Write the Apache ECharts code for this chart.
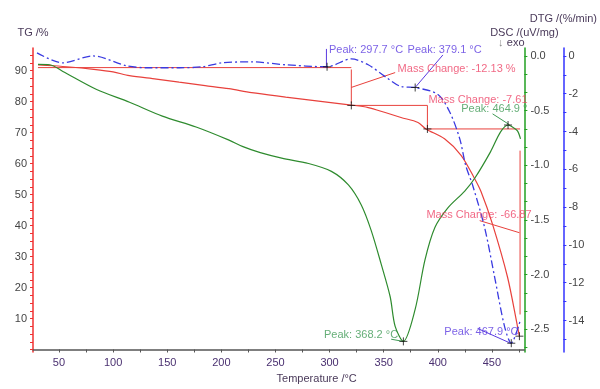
<!DOCTYPE html>
<html><head><meta charset="utf-8">
<script src="https://cdn.jsdelivr.net/npm/echarts@6/dist/echarts.min.js"></script>
<style>html,body{margin:0;padding:0;background:#fff}#c{width:600px;height:389px}</style>
</head><body><div id="c"></div>
<script>
// ---- data ----
const tgTemp = [30.6, 45, 60, 80, 100, 115, 140, 161, 185, 207, 228, 259.5, 289.8, 320.1, 335.7, 351.4, 366, 381.7, 389, 406.2, 421.5, 433.8, 439.9, 450.6, 464.4, 473.6, 475.4];
const tgVal  = [91.9, 91.6, 91.2, 90.5, 89.6, 88.4, 87.3, 86.3, 85.2, 84.2, 82.9, 81.5, 80.2, 78.9, 78.1, 76.5, 74.9, 73.3, 71.2, 68.0, 62.7, 55.3, 51.0, 40.4, 23.4, 7.5, 4.3];

const dscTemp = [30.6, 41.6, 53.6, 84.8, 115.2, 145.5, 176.7, 207.1, 220, 236, 255.8, 280.6, 301.7, 317.4, 329.3, 338.5, 347.7, 356, 360.6, 368.2, 379, 388.1, 397.3, 409.3, 424.9, 434.1, 448.8, 458, 464.9, 469, 473.6, 476.4];
const dscVal  = [-0.077, -0.081, -0.142, -0.307, -0.424, -0.551, -0.650, -0.77, -0.83, -0.885, -0.935, -0.984, -1.056, -1.18, -1.363, -1.597, -1.904, -2.202, -2.473, -2.61, -2.32, -1.868, -1.570, -1.39, -1.236, -1.119, -0.875, -0.695, -0.632, -0.650, -0.686, -0.758];

const dtgTemp = [29.7, 53.6, 81.1, 112.4, 130.8, 161.1, 182.2, 200.6, 228.2, 259.5, 297.7, 320.1, 335.7, 351.4, 366.1, 379.1, 400.1, 411.1, 420.3, 425.8, 432.2, 443.3, 452.5, 461.7, 467.9, 473.6, 476.4];
const dtgVal  = [0.157, -0.366, 0.0, -0.522, -0.627, -0.627, -0.575, -0.366, -0.313, -0.470, -0.575, -0.157, -0.470, -1.097, -1.620, -1.672, -2.038, -2.978, -4.389, -5.799, -6.844, -9.09, -11.70, -14.32, -15.2, -14.47, -13.95];

// mass-change steps: [start T, end T, level before, level after]
const massStepT    = [320.1, 390.4, 476.0];
const massStepFrom = [91.0, 78.8, 71.2];
const massStepTo   = [78.8, 71.2, 4.3];
const massLabels   = ['Mass Change: -12.13 %', 'Mass Change: -7.61', 'Mass Change: -66.87'];

const dscPeakT = [368.2, 464.9];
const dscPeakV = [-2.61, -0.632];
const dscPeakLabels = ['Peak: 368.2 °C', 'Peak: 464.9 °'];

const dtgPeakT = [297.7, 379.1, 467.9];
const dtgPeakV = [-0.575, -1.672, -15.2];
const dtgPeakLabels = ['Peak: 297.7 °C', 'Peak: 379.1 °C', 'Peak: 467.9 °C'];

const xLabels = [50, 100, 150, 200, 250, 300, 350, 400, 450];
const tgLabels = [10, 20, 30, 40, 50, 60, 70, 80, 90];
const dscLabels = [0, -0.5, -1.0, -1.5, -2.0, -2.5];
const dtgLabels = [0, -2, -4, -6, -8, -10, -12, -14];

// ---- build ----
const pts = (xs, ys) => xs.map((x, i) => [x, ys[i]]);
const FONT = '"Liberation Sans", Arial, sans-serif';
const RED = '#e8413c', GREEN = '#2e8b2e', BLUE = '#3a3ae0';
const RED_T = '#ee4466', GREEN_T = '#3f9a55', BLUE_T = '#5a3ae0';
const LBL = '#4a3a5a';

function range(a, b, step) { const r = []; for (let v = a; v <= b + 1e-9; v += step) r.push(+v.toFixed(4)); return r; }

const series = [];
series.push({ type: 'line', yAxisIndex: 0, data: pts(tgTemp, tgVal), smooth: 0.3, symbol: 'none', lineStyle: { color: RED, width: 1.2 }, z: 4 });
series.push({ type: 'line', yAxisIndex: 1, data: pts(dscTemp, dscVal), smooth: 0.3, symbol: 'none', lineStyle: { color: GREEN, width: 1.2 }, z: 4 });
series.push({ type: 'line', yAxisIndex: 2, data: pts(dtgTemp, dtgVal), smooth: 0.3, symbol: 'none', lineStyle: { color: BLUE, width: 1.3, type: [8, 3, 2, 3] }, z: 4 });

function seg(axis, a, b, color, w) {
  series.push({ type: 'line', yAxisIndex: axis, data: [a, b], symbol: 'none', silent: true, lineStyle: { color: color, width: w || 1 }, z: 3 });
}
// mass change construction lines
seg(0, [30.6, massStepFrom[0]], [massStepT[0], massStepFrom[0]], RED);
for (let i = 0; i < massStepT.length; i++) {
  const next = i + 1 < massStepT.length ? massStepT[i + 1] : null;
  if (next !== null) seg(0, [massStepT[i], massStepTo[i]], [next, massStepTo[i]], RED);
}
seg(0, [massStepT[0], 90.4], [massStepT[0], 79.4], RED);
seg(0, [massStepT[1], 78.8], [massStepT[1], 71.2], RED);
seg(0, [massStepT[2], 64.2], [massStepT[2], 11.3], RED);
// leaders
seg(0, [320.1, 84.6], [360.6, 89.4], RED);
seg(0, [438.7, 41.6], [475.4, 37.7], RED);
seg(1, [356.9, -2.59], [367.9, -2.61], GREEN_T);
seg(1, [450.6, -0.53], [466.3, -0.63], GREEN_T);
seg(2, [297.1, 0.37], [297.1, -0.575], BLUE_T);
seg(2, [404.7, 0.05], [379.1, -1.672], BLUE_T);
seg(2, [436.8, -14.42], [467.2, -15.2], BLUE_T);

// plus markers
const plus = 'path://M0,5L10,5M5,0L5,10';
function marks(axis, data) {
  series.push({ type: 'scatter', yAxisIndex: axis, data: data, symbol: plus, symbolSize: 8, silent: true,
    itemStyle: { color: 'none', borderColor: '#111', borderWidth: 1 }, z: 6 });
}
marks(0, [[massStepT[0], massStepTo[0]], [massStepT[1], massStepTo[1]], [475.4, massStepTo[2]]]);
marks(1, pts(dscPeakT, dscPeakV));
marks(2, pts(dtgPeakT, dtgPeakV));

// text labels
function texts(axis, items, color) {
  series.push({ type: 'scatter', yAxisIndex: axis, silent: true, symbolSize: 1, itemStyle: { color: 'transparent' },
    data: items, z: 7,
    label: { show: true, position: 'right', distance: 0, formatter: '{b}', color: color, fontSize: 11, fontFamily: FONT } });
}
texts(0, [
  { name: massLabels[0], value: [362.4, 90.6] },
  { name: massLabels[1], value: [390.9, 80.4] },
  { name: massLabels[2], value: [389.0, 43.5] }
], RED_T);
texts(1, [
  { name: dscPeakLabels[0], value: [294.4, -2.555] },
  { name: dscPeakLabels[1], value: [421.2, -0.487] }
], GREEN_T);
texts(2, [
  { name: dtgPeakLabels[0], value: [299.0, 0.31] },
  { name: dtgPeakLabels[1], value: [371.6, 0.31] },
  { name: dtgPeakLabels[2], value: [405.6, -14.58] }
], BLUE_T);

const chart = echarts.init(document.getElementById('c'), null, { renderer: 'canvas' });
chart.setOption({
  animation: false,
  backgroundColor: '#fff',
  grid: { left: 33, right: 73, top: 48, bottom: 33 },
  xAxis: {
    type: 'value', min: 26, max: 480,
    name: 'Temperature /°C', nameLocation: 'middle', nameGap: 13,
    nameTextStyle: { color: LBL, fontSize: 11, fontFamily: FONT, padding: [0, 0, 0, 76] },
    axisLine: { lineStyle: { color: '#555', width: 1.5 } },
    axisTick: { customValues: range(50, 475, 25), length: 3, lineStyle: { color: '#555' } },
    axisLabel: { customValues: xLabels, color: '#4a3070', fontSize: 11, fontFamily: FONT, margin: 5 },
    splitLine: { show: false }
  },
  yAxis: [
    { type: 'value', position: 'left', min: -0.84, max: 97.33,
      name: 'TG /%', nameLocation: 'end', nameGap: 10,
      nameTextStyle: { color: LBL, fontSize: 11, fontFamily: FONT },
      axisLine: { show: true, lineStyle: { color: '#f03030', width: 1.5 } },
      axisTick: { show: true, customValues: range(0, 95, 2.5), length: 3, lineStyle: { color: '#f03030' } },
      axisLabel: { customValues: tgLabels, color: '#444', fontSize: 11, fontFamily: FONT, margin: 6 },
      splitLine: { show: false } },
    { type: 'value', position: 'right', offset: 0, min: -2.708, max: 0.072,
      name: 'DSC /(uV/mg)', nameLocation: 'end', nameGap: 10,
      nameTextStyle: { color: LBL, fontSize: 11, fontFamily: FONT },
      axisLine: { show: true, lineStyle: { color: '#22a022', width: 1.5 } },
      axisTick: { show: true, customValues: range(0, 16, 1).map(v => -v / 6).filter(v => v >= -2.7), length: 3, lineStyle: { color: '#22a022' } },
      axisLabel: { customValues: dscLabels, formatter: v => v.toFixed(1), color: '#444', fontSize: 11, fontFamily: FONT, margin: 6 },
      splitLine: { show: false } },
    { type: 'value', position: 'right', offset: 39, min: -15.67, max: 0.418,
      name: 'DTG /(%/min)', nameLocation: 'end', nameGap: 24,
      nameTextStyle: { color: LBL, fontSize: 11, fontFamily: FONT },
      axisLine: { show: true, lineStyle: { color: '#3333ff', width: 1.5 } },
      axisTick: { show: true, customValues: range(0, 15, 1).map(v => -v), length: 3, lineStyle: { color: '#3333ff' } },
      axisLabel: { customValues: dtgLabels, color: '#444', fontSize: 11, fontFamily: FONT, margin: 5 },
      splitLine: { show: false } }
  ],
  graphic: [{
    type: 'text', left: 498, top: 37,
    style: { text: '{a|↓} {b|exo}', rich: { a: { fill: '#888', fontSize: 11, fontFamily: FONT }, b: { fill: LBL, fontSize: 11, fontFamily: FONT } } }
  }],
  series: series
});
</script></body></html>
